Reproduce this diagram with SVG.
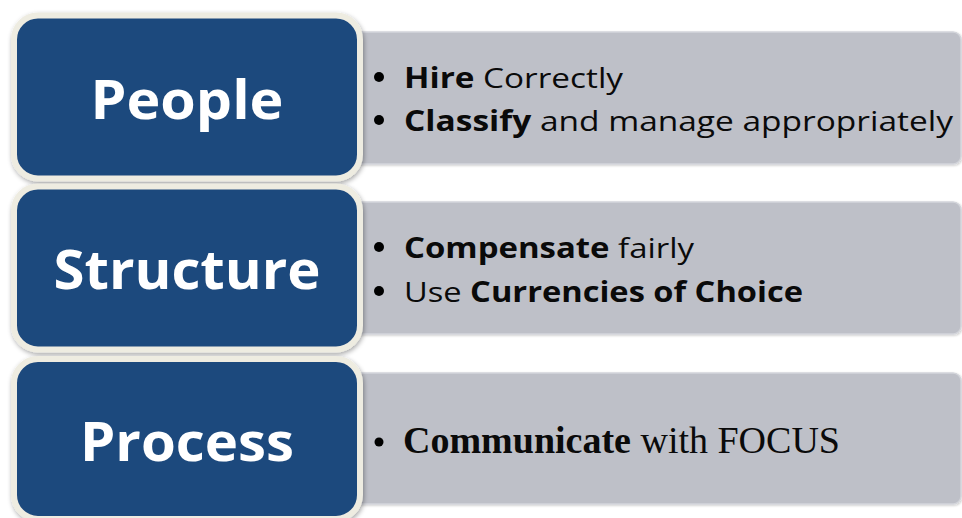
<svg xmlns="http://www.w3.org/2000/svg" width="962" height="518" viewBox="0 0 962 518">
  <defs>
    <filter id="soft" x="-10%" y="-10%" width="120%" height="125%">
      <feGaussianBlur in="SourceAlpha" stdDeviation="2.5"/>
      <feOffset dx="1" dy="2" result="b"/>
      <feComponentTransfer><feFuncA type="linear" slope="0.35"/></feComponentTransfer>
      <feMerge><feMergeNode/><feMergeNode in="SourceGraphic"/></feMerge>
    </filter>
    <filter id="faint" x="-5%" y="-10%" width="110%" height="125%">
      <feGaussianBlur in="SourceAlpha" stdDeviation="1.2"/>
      <feOffset dx="1" dy="1" result="b"/>
      <feComponentTransfer><feFuncA type="linear" slope="0.2"/></feComponentTransfer>
      <feMerge><feMergeNode/><feMergeNode in="SourceGraphic"/></feMerge>
    </filter>
  </defs>
  <style>
    .panel { fill: #BEC0C8; stroke: #D3D5DB; stroke-width: 1.5; }
    .head { fill: #1F497D; stroke: #EEECE1; stroke-width: 6; }
    .title { font-family: "Open Sans", "DejaVu Sans", sans-serif; font-weight: 700; font-size: 54px; fill: #FFFFFF; text-anchor: middle; }
    .item { font-family: "Open Sans", "Liberation Sans", sans-serif; font-size: 28px; fill: #0A0A0A; }
    .serif { font-family: "Liberation Serif", "DejaVu Serif", serif; font-size: 37px; fill: #0A0A0A; }
    .dot { fill: #000000; }
    .b { font-weight: 700; }
  </style>

  <rect width="962" height="518" fill="#FFFFFF"/>

  <!-- People row -->
  <g id="people">
    <rect class="panel" x="330" y="32" width="631" height="132" rx="8" filter="url(#faint)"/>
    <rect class="head" x="14" y="15.5" width="346" height="163" rx="24" filter="url(#soft)"/>
    <text class="title" x="187" y="119" textLength="193" lengthAdjust="spacingAndGlyphs">People</text>
    <circle class="dot" cx="379" cy="77" r="5"/>
    <text class="item" x="404" y="88" textLength="219" lengthAdjust="spacingAndGlyphs"><tspan class="b">Hire</tspan> Correctly</text>
    <circle class="dot" cx="379" cy="120" r="5"/>
    <text class="item" x="404" y="131" textLength="549" lengthAdjust="spacingAndGlyphs"><tspan class="b">Classify</tspan> and manage appropriately</text>
  </g>

  <!-- Structure row -->
  <g id="structure">
    <rect class="panel" x="330" y="202" width="631" height="132" rx="8" filter="url(#faint)"/>
    <rect class="head" x="14" y="186.5" width="346" height="163" rx="24" filter="url(#soft)"/>
    <text class="title" x="187" y="289" textLength="267" lengthAdjust="spacingAndGlyphs">Structure</text>
    <circle class="dot" cx="379" cy="247" r="5"/>
    <text class="item" x="404" y="258" textLength="290" lengthAdjust="spacingAndGlyphs"><tspan class="b">Compensate</tspan> fairly</text>
    <circle class="dot" cx="379" cy="291" r="5"/>
    <text class="item" x="404" y="302" textLength="399" lengthAdjust="spacingAndGlyphs">Use <tspan class="b">Currencies of Choice</tspan></text>
  </g>

  <!-- Process row -->
  <g id="process">
    <rect class="panel" x="330" y="373" width="631" height="131" rx="8" filter="url(#faint)"/>
    <rect class="head" x="14" y="359" width="346" height="160" rx="24" filter="url(#soft)"/>
    <text class="title" x="187" y="460.5" textLength="214" lengthAdjust="spacingAndGlyphs">Process</text>
    <circle class="dot" cx="379" cy="442" r="4.5"/>
    <text class="serif" x="403" y="452.5" textLength="437" lengthAdjust="spacingAndGlyphs"><tspan class="b">Communicate</tspan> with FOCUS</text>
  </g>

  <!-- no connectors in this layout -->
  <g id="connectors"/>
</svg>
